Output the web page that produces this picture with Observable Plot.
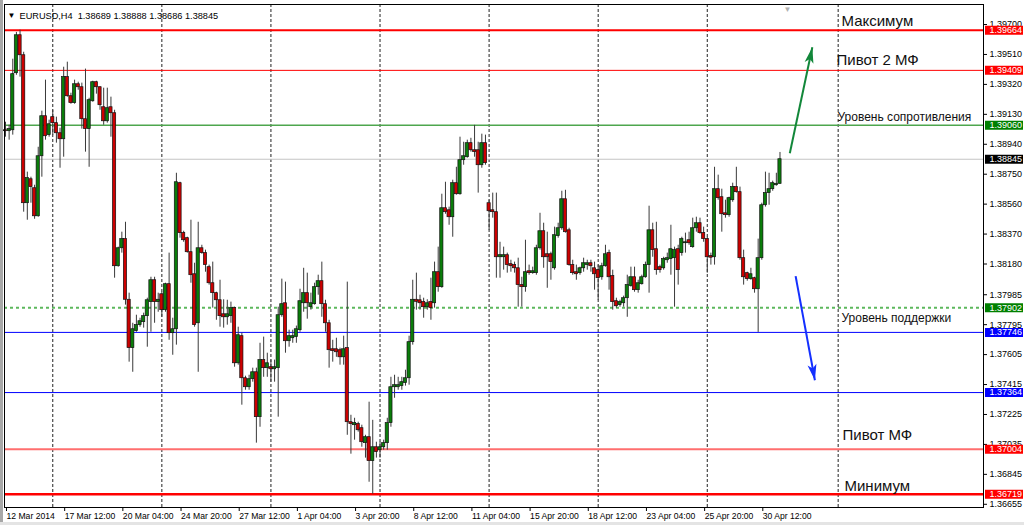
<!DOCTYPE html>
<html>
<head>
<meta charset="utf-8">
<script src="https://cdn.jsdelivr.net/npm/d3@7"></script>
<script src="https://cdn.jsdelivr.net/npm/@observablehq/plot@0.6"></script>
<style>
html,body{margin:0;padding:0;background:#fff;}
#chart{position:relative;width:1024px;height:525px;overflow:hidden;background:#fff;}
#chart svg{display:block;}
.edge-left{position:absolute;left:0;top:0;width:3px;height:525px;background:#a8a8a8;}
.edge-bottom{position:absolute;left:0;bottom:0;width:1024px;height:3px;background:#e4e4e4;}
</style>
</head>
<body>
<div id="chart"><div class="edge-left"></div><div class="edge-bottom"></div></div>
<script>
// ---------- DATA ----------
const symbolName = "EURUSD,H4";

const opens = [
1.39029,1.39023,1.39029,1.39391,1.39632,1.39505,1.38566,1.38718,1.38661,1.38483,
1.38864,1.39118,1.38998,1.39112,1.39074,1.39010,1.38972,1.39366,1.39245,1.39201,
1.39321,1.39302,1.39099,1.39036,1.39213,1.39334,1.39302,1.39175,1.39086,1.39175,
1.39137,1.38166,1.38280,1.38338,1.37953,1.37646,1.37754,1.37792,1.37811,1.37849,
1.37938,1.38077,1.37938,1.37988,1.37887,1.38052,1.37741,1.37766,1.38693,1.38376,
1.38344,1.38255,1.38115,1.37804,1.38280,1.38249,1.38160,1.38058,1.37995,1.37950,
1.37861,1.37842,1.37849,1.37900,1.37550,1.37722,1.37455,1.37398,1.37449,1.37493,
1.37208,1.37570,1.37519,1.37525,1.37512,1.37519,1.37855,1.37931,1.37690,1.37709,
1.37716,1.37760,1.37931,1.37995,1.37906,1.37925,1.38033,1.38071,1.37925,1.37804,
1.37639,1.37639,1.37633,1.37588,1.37646,1.37176,1.37157,1.37164,1.37138,1.37043,
1.37081,1.36929,1.37017,1.36998,1.37017,1.37043,1.37170,1.37398,1.37398,1.37405,
1.37424,1.37455,1.37684,1.37953,1.37950,1.37938,1.37906,1.37938,1.37931,1.38128,
1.38033,1.38534,1.38521,1.38477,1.38693,1.38623,1.38839,1.38858,1.38947,1.38902,
1.38902,1.38807,1.38947,1.38566,1.38521,1.38509,1.38223,1.38223,1.38236,1.38179,
1.38173,1.38153,1.38046,1.38033,1.38134,1.38122,1.38122,1.38280,1.38388,1.38242,
1.38242,1.38153,1.38357,1.38407,1.38591,1.38394,1.38173,1.38128,1.38122,1.38153,
1.38173,1.38185,1.38153,1.38141,1.38096,1.38166,1.38249,1.38103,1.37944,1.37919,
1.37931,1.37963,1.38040,1.38096,1.38014,1.38052,1.38096,1.38173,1.38394,1.38274,
1.38160,1.38153,1.38204,1.38211,1.38217,1.38274,1.38249,1.38312,1.38331,1.38287,
1.38407,1.38439,1.38376,1.38338,1.38230,1.38223,1.38655,1.38604,1.38502,1.38490,
1.38585,1.38668,1.38636,1.38217,1.38122,1.38084,1.38090,1.38020,1.38217,1.38553,
1.38630,1.38655,1.38680,1.38689];

const highs = [
1.39080,1.39061,1.39480,1.39650,1.39664,1.39524,1.38763,1.38731,1.38680,1.38921,
1.39150,1.39347,1.39093,1.39156,1.39112,1.39042,1.39429,1.39461,1.39264,1.39347,
1.39334,1.39328,1.39417,1.39232,1.39340,1.39340,1.39305,1.39296,1.39296,1.39239,
1.39156,1.38287,1.38382,1.38445,1.37995,1.37804,1.37855,1.37836,1.37868,1.37963,
1.38096,1.38096,1.37995,1.38001,1.38058,1.38249,1.37836,1.38756,1.38699,1.38388,
1.38350,1.38458,1.38185,1.38445,1.38299,1.38268,1.38173,1.38192,1.38001,1.38077,
1.37953,1.37950,1.37938,1.37906,1.37779,1.37741,1.37468,1.37474,1.37519,1.37519,
1.37677,1.37716,1.37614,1.37570,1.37570,1.37906,1.38084,1.38065,1.37760,1.37760,
1.37786,1.38020,1.38153,1.38122,1.37995,1.38058,1.38109,1.38192,1.37950,1.37823,
1.37696,1.37709,1.37646,1.37722,1.38065,1.37220,1.37201,1.37176,1.37157,1.37093,
1.37303,1.37188,1.37049,1.37049,1.37062,1.37201,1.37461,1.37474,1.37461,1.37461,
1.37506,1.37722,1.38077,1.38122,1.37982,1.37963,1.37953,1.38090,1.38192,1.38287,
1.38623,1.38699,1.38541,1.38712,1.38794,1.38985,1.38953,1.38966,1.38978,1.39060,
1.38953,1.39004,1.38998,1.38585,1.38630,1.38630,1.38318,1.38287,1.38249,1.38204,
1.38192,1.38217,1.38096,1.38331,1.38173,1.38160,1.38299,1.38502,1.38439,1.38382,
1.38255,1.38414,1.38439,1.38642,1.38648,1.38407,1.38204,1.38173,1.38160,1.38217,
1.38204,1.38204,1.38192,1.38173,1.38185,1.38299,1.38268,1.38141,1.37963,1.37950,
1.37976,1.38109,1.38160,1.38160,1.38077,1.38109,1.38192,1.38547,1.38439,1.38445,
1.38173,1.38223,1.38249,1.38426,1.38287,1.38299,1.38350,1.38376,1.38382,1.38471,
1.38477,1.38471,1.38414,1.38350,1.38249,1.38794,1.38744,1.38655,1.38585,1.38604,
1.38693,1.38794,1.38668,1.38268,1.38128,1.38153,1.38096,1.38338,1.38566,1.38763,
1.38756,1.38706,1.38756,1.38888];

const lows = [
1.38985,1.38966,1.38998,1.39378,1.39366,1.38509,1.38458,1.38566,1.38464,1.38477,
1.38731,1.38966,1.38985,1.38998,1.38947,1.38788,1.38858,1.39239,1.39194,1.39194,
1.39283,1.39036,1.38890,1.38794,1.39207,1.39258,1.39156,1.39061,1.39074,1.38985,
1.38090,1.38160,1.38249,1.37919,1.37557,1.37493,1.37747,1.37779,1.37773,1.37652,
1.37747,1.37804,1.37874,1.37842,1.37874,1.37696,1.37601,1.37665,1.38344,1.38318,
1.38249,1.38058,1.37779,1.37493,1.38242,1.38128,1.38046,1.37900,1.37823,1.37779,
1.37773,1.37792,1.37804,1.37525,1.37538,1.37284,1.37379,1.37379,1.37430,1.37043,
1.37144,1.37461,1.37461,1.37430,1.37430,1.37208,1.37842,1.37614,1.37652,1.37677,
1.37677,1.37747,1.37874,1.37830,1.37887,1.37919,1.37982,1.37842,1.37747,1.37519,
1.37557,1.37588,1.37538,1.37538,1.37093,1.36973,1.37062,1.37113,1.37017,1.36948,
1.36795,1.36719,1.36948,1.36948,1.36998,1.36998,1.37144,1.37328,1.37379,1.37379,
1.37405,1.37411,1.37665,1.37887,1.37887,1.37836,1.37887,1.37823,1.37900,1.38001,
1.38026,1.38496,1.38426,1.38350,1.38617,1.38617,1.38807,1.38852,1.38890,1.38858,
1.38630,1.38788,1.38807,1.38394,1.38471,1.38090,1.38090,1.38141,1.38122,1.38128,
1.38122,1.37906,1.37906,1.38001,1.38109,1.38115,1.38109,1.38268,1.38153,1.38026,
1.38077,1.38141,1.38344,1.38394,1.38376,1.38166,1.38109,1.38077,1.38109,1.38128,
1.38141,1.38128,1.38014,1.37950,1.38077,1.38160,1.38014,1.37887,1.37900,1.37906,
1.37906,1.37842,1.38033,1.38001,1.37995,1.38046,1.38090,1.37995,1.38223,1.38109,
1.38122,1.38141,1.38185,1.38109,1.37906,1.38046,1.38230,1.38249,1.38299,1.38280,
1.38382,1.38369,1.38318,1.38122,1.38173,1.38173,1.38585,1.38382,1.38471,1.38477,
1.38572,1.38630,1.38204,1.38046,1.38071,1.38077,1.37995,1.37746,1.38204,1.38541,
1.38553,1.38642,1.38674,1.38686];

const closes = [
1.39023,1.39036,1.39385,1.39632,1.39505,1.38566,1.38725,1.38668,1.38483,1.38864,
1.39118,1.38991,1.39067,1.39074,1.39010,1.38972,1.39366,1.39245,1.39201,1.39321,
1.39302,1.39099,1.39036,1.39220,1.39334,1.39302,1.39188,1.39086,1.39169,1.39137,
1.38166,1.38280,1.38338,1.37953,1.37646,1.37766,1.37792,1.37817,1.37849,1.37950,
1.38077,1.37938,1.37953,1.37887,1.38052,1.37741,1.37766,1.38699,1.38376,1.38331,
1.38255,1.38109,1.37792,1.38280,1.38249,1.38173,1.38058,1.37995,1.37950,1.37849,
1.37842,1.37861,1.37900,1.37550,1.37728,1.37455,1.37398,1.37449,1.37493,1.37208,
1.37570,1.37519,1.37550,1.37512,1.37525,1.37855,1.37925,1.37690,1.37722,1.37722,
1.37766,1.37944,1.37995,1.37931,1.37931,1.38033,1.38071,1.37925,1.37804,1.37633,
1.37627,1.37620,1.37588,1.37639,1.37176,1.37164,1.37170,1.37125,1.37049,1.37081,
1.36929,1.37017,1.36986,1.37017,1.37043,1.37170,1.37398,1.37411,1.37411,1.37430,
1.37455,1.37684,1.37953,1.37940,1.37931,1.37906,1.37931,1.37900,1.38128,1.38033,
1.38534,1.38509,1.38477,1.38693,1.38623,1.38839,1.38864,1.38947,1.38902,1.38890,
1.38807,1.38947,1.38820,1.38515,1.38509,1.38223,1.38236,1.38236,1.38173,1.38166,
1.38153,1.38046,1.38033,1.38128,1.38122,1.38134,1.38280,1.38388,1.38223,1.38223,
1.38192,1.38363,1.38407,1.38591,1.38382,1.38173,1.38122,1.38115,1.38153,1.38185,
1.38185,1.38166,1.38115,1.38090,1.38166,1.38242,1.38096,1.37938,1.37912,1.37938,
1.37963,1.38046,1.38096,1.38014,1.38058,1.38096,1.38173,1.38394,1.38268,1.38141,
1.38141,1.38211,1.38217,1.38274,1.38268,1.38141,1.38338,1.38318,1.38312,1.38407,
1.38439,1.38376,1.38338,1.38223,1.38220,1.38655,1.38598,1.38496,1.38490,1.38598,
1.38668,1.38636,1.38217,1.38096,1.38084,1.38115,1.38020,1.38217,1.38553,1.38630,
1.38655,1.38693,1.38689,1.38845];

const timeLabels = ["12 Mar 2014","17 Mar 12:00","20 Mar 04:00","24 Mar 20:00","27 Mar 12:00",
  "1 Apr 04:00","3 Apr 20:00","8 Apr 12:00","11 Apr 04:00","15 Apr 20:00",
  "18 Apr 12:00","23 Apr 04:00","25 Apr 20:00","30 Apr 12:00"];
const timeLabelBars = [0,16,32,48,64,80,96,112,128,144,160,176,192,208];

const priceTicks = [1.39700,1.39510,1.39320,1.39130,1.38940,1.38750,1.38560,1.38370,1.38180,
  1.37985,1.37795,1.37605,1.37415,1.37225,1.37035,1.36845,1.36655];

const separatorBars = [13,43,73,103,133,163,193,229];

const levelPrices = [1.39664,1.39409,1.39060,1.38845,1.37902,1.37746,1.37364,1.37004,1.36719];

const noteTexts = ["Максимум","Пивот 2 МФ","Уровень сопротивления","Уровень поддержки","Пивот МФ","Минимум"];
const notePrices = [1.39664,1.39409,1.39060,1.37746,1.37004,1.36719];

const arrowStartBars = [215.7,217.3];
const arrowStartPrices = [1.38883,1.38103];
const arrowEndBars = [221.9,222.6];
const arrowEndPrices = [1.39556,1.37442];

// ---------- STYLE ----------
const FONT = "'Liberation Sans', Arial, sans-serif";
const UP = "#0a7d0a", DOWN = "#cc0000";
const levelStyles = [
  {stroke:"#ff0000", width:2,   box:"#ff0000"},
  {stroke:"#ff0000", width:1,   box:"#ff0000"},
  {stroke:"#4ea64e", width:1.5, box:"#008000"},
  {stroke:"#c4c4c4", width:1,   box:"#000000"},
  {stroke:"#5cb85c", width:2,   box:"#008000", dash:"3,3"},
  {stroke:"#0000ff", width:1,   box:"#0000ff"},
  {stroke:"#0000ff", width:1,   box:"#0000ff"},
  {stroke:"#ff6e6e", width:2,   box:"#ff0000"},
  {stroke:"#ff0000", width:2.5, box:"#ff0000"}
];
const noteStyles = [
  {dx:-142, dy:-9,  size:15},
  {dx:-147, dy:-10, size:15},
  {dx:-146, dy:-8,  size:12},
  {dx:-142, dy:-14, size:12},
  {dx:-141, dy:-14, size:15},
  {dx:-139, dy:-8,  size:15}
];
const arrowStyles = [
  {color:"#12873a", angle:12},
  {color:"#1430ff", angle:169.5}
];

// ---------- BUILD ----------
const bars = opens.map((o, i) => ({i, open:o, high:highs[i], low:lows[i], close:closes[i]}));
const upBars = bars.filter(d => d.close >= d.open);
const downBars = bars.filter(d => d.close < d.open);
const labelByBar = new Map(timeLabelBars.map((b, k) => [b, timeLabels[k]]));
const last = bars[bars.length - 1];
const header = `${symbolName}\u00a0\u00a0${last.open.toFixed(5)} ${last.high.toFixed(5)} ${last.low.toFixed(5)} ${last.close.toFixed(5)}`;

const boxSymbol = {draw(ctx){ ctx.rect(-19, -4.5, 38, 9); }};
function headSymbol(deg){
  const a = deg * Math.PI / 180, c = Math.cos(a), s = Math.sin(a);
  const pts = [[0,0],[-4.5,16],[0,12],[4.5,16]];
  return {draw(ctx){
    pts.forEach(([x,y],k) => { const X = x*c - y*s, Y = x*s + y*c; k ? ctx.lineTo(X,Y) : ctx.moveTo(X,Y); });
    ctx.closePath();
  }};
}

const marks = [];
// period separators
marks.push(Plot.ruleX(separatorBars, {stroke:"#222", strokeWidth:1, strokeDasharray:"3,2"}));
// level lines
levelPrices.forEach((v, k) => {
  const st = levelStyles[k];
  marks.push(Plot.ruleY([v], {stroke:st.stroke, strokeWidth:st.width, strokeDasharray:st.dash}));
});
// candles
marks.push(Plot.ruleX(bars, {x:"i", y1:"low", y2:"high", stroke:"#3a3a3a", strokeWidth:1}));
marks.push(Plot.rect(upBars, {x1:d => d.i - 0.44, x2:d => d.i + 0.44, y1:"open", y2:"close", fill:UP, stroke:"#111", strokeWidth:0.7}));
marks.push(Plot.rect(downBars, {x1:d => d.i - 0.44, x2:d => d.i + 0.44, y1:"open", y2:"close", fill:DOWN, stroke:"#111", strokeWidth:0.7}));
// frame
marks.push(Plot.frame({stroke:"#000", strokeWidth:1, shapeRendering:"crispEdges"}));
// axes
marks.push(Plot.axisY(priceTicks, {anchor:"right", tickSize:3, tickPadding:3, tickFormat:d => d.toFixed(5), fontSize:9, label:null}));
marks.push(Plot.axisX(timeLabelBars, {anchor:"bottom", tickSize:4, tickPadding:1, tickFormat:d => labelByBar.get(d), textAnchor:"start", dx:1, fontSize:8.6, label:null}));
// level price boxes
levelPrices.forEach((v, k) => {
  marks.push(Plot.dot([v], {y:d => d, frameAnchor:"right", dx:20.5, symbol:boxSymbol, r:5, fill:levelStyles[k].box, stroke:"none"}));
  marks.push(Plot.text([v], {y:d => d, text:d => d.toFixed(5), frameAnchor:"right", dx:6, textAnchor:"start", fill:"#fff", fontSize:9}));
});
// annotations
noteTexts.forEach((t, k) => {
  const st = noteStyles[k];
  marks.push(Plot.text([notePrices[k]], {y:d => d, text:() => t, frameAnchor:"right", dx:st.dx, dy:st.dy, textAnchor:"start", fontSize:st.size, fill:"#111"}));
});
// arrows
arrowStartBars.forEach((b, k) => {
  const d = [{x1:b, y1:arrowStartPrices[k], x2:arrowEndBars[k], y2:arrowEndPrices[k]}];
  marks.push(Plot.link(d, {x1:"x1", y1:"y1", x2:"x2", y2:"y2", stroke:arrowStyles[k].color, strokeWidth:2}));
  marks.push(Plot.dot(d, {x:"x2", y:"y2", symbol:headSymbol(arrowStyles[k].angle), r:5, fill:arrowStyles[k].color, stroke:"none"}));
});
// header
marks.push(Plot.text(["\u25BC"], {frameAnchor:"top-left", dx:3, dy:8, textAnchor:"start", fontSize:8, fill:"#000"}));
marks.push(Plot.text([header], {frameAnchor:"top-left", dx:15, dy:8, textAnchor:"start", fontSize:9.2, fill:"#000"}));
marks.push(Plot.text(["\u25BC"], {frameAnchor:"top-left", dx:779, dy:2, textAnchor:"start", fontSize:8, fill:"#b0b0b0"}));

const chart = Plot.plot({
  width:1024, height:525,
  marginLeft:4, marginRight:41, marginTop:4, marginBottom:18,
  x:{type:"linear", domain:[-0.275, 268.97], axis:null},
  y:{type:"linear", domain:[1.366346, 1.398271], axis:null},
  style:{fontFamily:FONT, background:"transparent", color:"#000", overflow:"visible"},
  marks
});
document.getElementById("chart").prepend(chart);
</script>
</body>
</html>
